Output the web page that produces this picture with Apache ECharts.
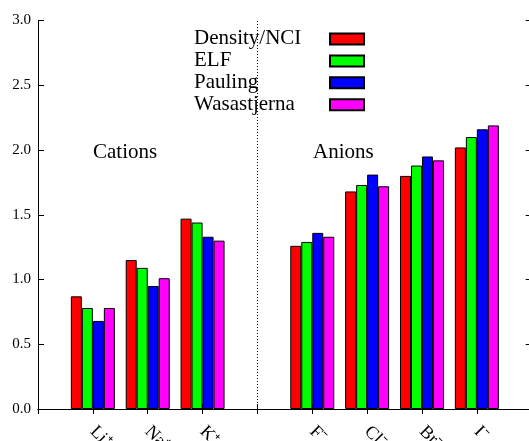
<!DOCTYPE html>
<html>
<head>
<meta charset="utf-8">
<script src="https://cdn.jsdelivr.net/npm/echarts@6/dist/echarts.min.js"></script>
<style>html,body{margin:0;padding:0;background:#fff;}#chart{width:529px;height:441px;}</style>
</head>
<body>
<div id="chart"></div>
<script>
// ---- data ----
var ions = ['Li⁺', 'Na⁺', 'K⁺', 'F⁻', 'Cl⁻', 'Br⁻', 'I⁻'];
var densityNCI = [0.87, 1.15, 1.47, 1.26, 1.68, 1.80, 2.02];
var elf        = [0.78, 1.09, 1.44, 1.29, 1.73, 1.88, 2.10];
var pauling    = [0.68, 0.95, 1.33, 1.36, 1.81, 1.95, 2.16];
var wasastjerna= [0.78, 1.01, 1.30, 1.33, 1.72, 1.92, 2.19];
var seriesNames = ['Density/NCI', 'ELF', 'Pauling', 'Wasastjerna'];
var yTicks = ['0.0', '0.5', '1.0', '1.5', '2.0', '2.5', '3.0'];
var groupLabels = ['Cations', 'Anions'];

// axis slots: blank, 3 cations, blank separator, 4 anions, blank
var categories = ['', ions[0], ions[1], ions[2], ' ', ions[3], ions[4], ions[5], ions[6], '  '];
var separatorIndex = 4;
function toSlots(v) {
  return ['-', v[0], v[1], v[2], '-', v[3], v[4], v[5], v[6], '-'];
}
var colors = ['#ff0000', '#00ff00', '#0000ff', '#ff00ff'];
var allValues = [densityNCI, elf, pauling, wasastjerna];
var FONT = '"Liberation Serif", "Times New Roman", serif';

var series = allValues.map(function (vals, i) {
  return {
    name: seriesNames[i],
    type: 'bar',
    data: toSlots(vals),
    barWidth: 11,
    barGap: '0%',
    itemStyle: { color: colors[i], borderColor: '#000', borderWidth: 1 },
    emphasis: { disabled: true },
    animation: false
  };
});
// separator between cations and anions
series.push({
  name: 'separator',
  type: 'line',
  data: categories.map(function () { return '-'; }),
  symbol: 'none',
  silent: true,
  animation: false,
  markLine: {
    silent: true,
    symbol: ['none', 'none'],
    label: { show: false },
    lineStyle: { color: '#000', type: [1, 2], width: 1 },
    data: [{ xAxis: separatorIndex }],
    animation: false
  }
});

var chart = echarts.init(document.getElementById('chart'), null, { renderer: 'canvas' });
chart.setOption({
  backgroundColor: '#fff',
  animation: false,
  grid: { left: 38, top: 20.5, width: 493.7, height: 388.5, containLabel: false, outerBoundsMode: 'none' },
  legend: [
    {
      data: seriesNames,
      orient: 'vertical',
      left: 189, top: 28,
      padding: 0,
      itemGap: 0,
      itemWidth: 0, itemHeight: 21.9,
      align: 'left',
      selectedMode: false,
      itemStyle: { opacity: 0, borderWidth: 0 },
      textStyle: { fontFamily: FONT, fontSize: 21, color: '#000', lineHeight: 21.9 }
    },
    {
      data: seriesNames,
      orient: 'vertical',
      left: 329, top: 32.5,
      padding: 0,
      itemGap: 8.9,
      itemWidth: 34, itemHeight: 11,
      align: 'left',
      icon: 'rect',
      selectedMode: false,
      formatter: function () { return ''; },
      textStyle: { fontSize: 1, lineHeight: 1 }
    }
  ],
  xAxis: [
    {
      type: 'category', data: categories, boundaryGap: false, position: 'bottom',
      axisLine: { lineStyle: { color: '#000', width: 1 } },
      axisTick: { inside: true, length: 5, lineStyle: { color: '#000' } },
      axisLabel: { rotate: -45, margin: 20, fontFamily: FONT, fontSize: 18, color: '#000', interval: 0 },
      splitLine: { show: false }
    },
    {
      type: 'category', data: categories, boundaryGap: false, position: 'top',
      axisLine: { lineStyle: { color: '#000', width: 1 } },
      axisTick: { inside: true, length: 5, lineStyle: { color: '#000' }, interval: 0 },
      axisLabel: { show: false },
      splitLine: { show: false }
    }
  ],
  yAxis: [
    {
      type: 'value', min: 0, max: 3, interval: 0.5, position: 'left',
      axisLine: { show: true, lineStyle: { color: '#000', width: 1 } },
      axisTick: { show: true, inside: true, length: 6, lineStyle: { color: '#000' } },
      axisLabel: {
        margin: 7, fontFamily: FONT, fontSize: 15, color: '#000',
        formatter: function (v) { return yTicks[Math.round(v / 0.5)]; }
      },
      splitLine: { show: false }
    },
    {
      type: 'value', min: 0, max: 3, interval: 0.5, position: 'right',
      axisLine: { show: true, lineStyle: { color: '#000', width: 1 } },
      axisTick: { show: true, inside: true, length: 6, lineStyle: { color: '#000' } },
      axisLabel: { show: false },
      splitLine: { show: false }
    }
  ],
  graphic: [
    { type: 'text', left: 93, top: 141.5, silent: true,
      style: { text: groupLabels[0], font: '21px ' + FONT, fill: '#000' } },
    { type: 'text', left: 313, top: 141.5, silent: true,
      style: { text: groupLabels[1], font: '21px ' + FONT, fill: '#000' } }
  ],
  series: series
});
</script>
</body>
</html>
